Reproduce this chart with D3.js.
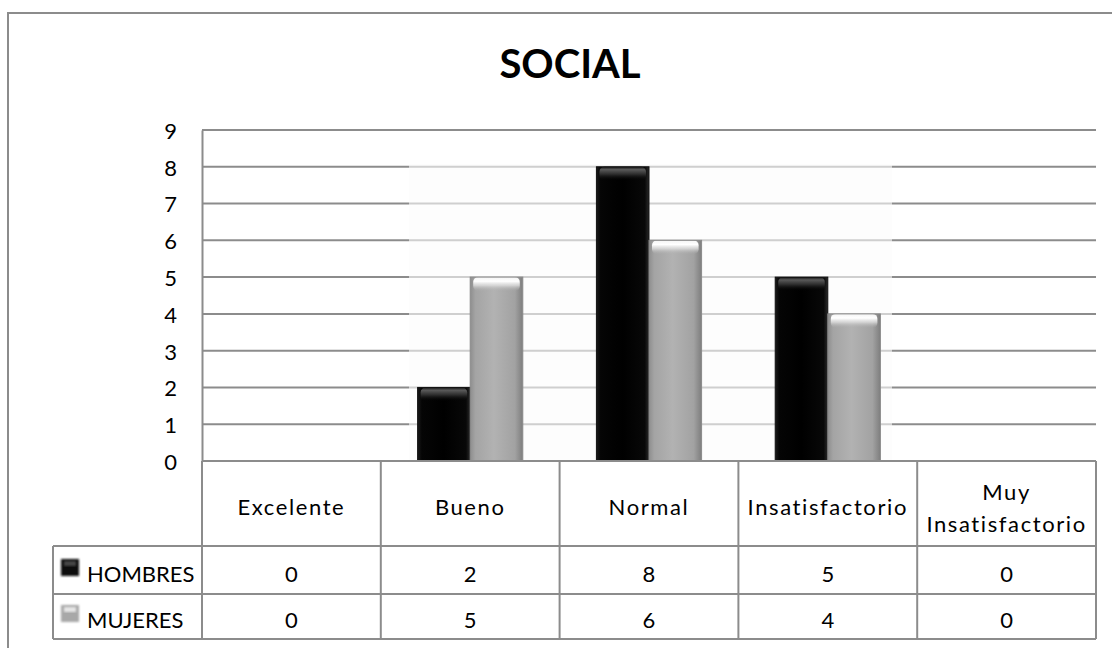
<!DOCTYPE html>
<html>
<head>
<meta charset="utf-8">
<script src="https://cdn.jsdelivr.net/npm/d3@7"></script>
<style>
  html, body { margin: 0; padding: 0; background: #fff; }
  svg { display: block; }
  text { font-family: Lato, "Open Sans", sans-serif; fill: #000; }
</style>
</head>
<body>
<svg id="chart" width="1112" height="648"></svg>
<script>
// Chart data
const title = "SOCIAL";
const categories = ["Excelente", "Bueno", "Normal", "Insatisfactorio", "Muy Insatisfactorio"];
const categoryLines = [["Excelente"], ["Bueno"], ["Normal"], ["Insatisfactorio"], ["Muy", "Insatisfactorio"]];
const seriesNames = ["HOMBRES", "MUJERES"];
const hombres = [0, 2, 8, 5, 0];
const mujeres = [0, 5, 6, 4, 0];
const yTicks = [0, 1, 2, 3, 4, 5, 6, 7, 8, 9];

const seriesValues = { HOMBRES: hombres, MUJERES: mujeres };

const svg = d3.select("#chart");
const line = "#8c8c8c";
const fontSize = 22;

// Plot geometry
const plot = { left: 202, right: 1096, top: 130, bottom: 461 };
const tableRows = { header: 546, row1: 594, row2: 639 };
const legendLeft = 53;

const y = d3.scaleLinear().domain([0, 9]).range([plot.bottom, plot.top]);
const x0 = d3.scaleBand().domain(categories).range([plot.left, plot.right]).padding(0);
const x1 = d3.scaleBand().domain(seriesNames).range([0, x0.bandwidth()])
  .paddingInner(0).paddingOuter(0.7);

// Gradients for the bevelled bars
const defs = svg.append("defs");
function linGrad(id, x2, y2, stops) {
  const g = defs.append("linearGradient").attr("id", id)
    .attr("x1", 0).attr("y1", 0).attr("x2", x2).attr("y2", y2);
  stops.forEach(s => g.append("stop").attr("offset", s[0]).attr("stop-color", s[1]).attr("stop-opacity", s[2] == null ? 1 : s[2]));
}
linGrad("hBody", 1, 0, [[0, "#1a1a1a"], [0.08, "#050505"], [0.5, "#000"], [0.92, "#080808"], [1, "#2a2a2a"]]);
linGrad("mBody", 1, 0, [[0, "#8e8e8e"], [0.1, "#a4a4a4"], [0.45, "#b2b2b2"], [0.85, "#a2a2a2"], [1, "#7e7e7e"]]);
linGrad("hCap", 0, 1, [[0, "#111"], [0.2, "#5a5a5a"], [0.55, "#2a2a2a"], [1, "#000", 0]]);
linGrad("mCap", 0, 1, [[0, "#f4f4f4"], [0.3, "#ffffff"], [0.6, "#dedede", 0.8], [1, "#b0b0b0", 0]]);
defs.append("filter").attr("id", "soft").append("feGaussianBlur").attr("stdDeviation", 0.9);

// Outer frame (left and top edges)
svg.append("path")
  .attr("d", "M8,648 V13 H1112")
  .attr("fill", "none").attr("stroke", line).attr("stroke-width", 2);

// Title
svg.append("text").attr("x", 570).attr("y", 78).attr("text-anchor", "middle")
  .attr("font-size", 40).attr("font-weight", 700).text(title);

// Gridlines
svg.append("g").selectAll("line").data(yTicks.filter(d => d > 0)).join("line")
  .attr("x1", plot.left).attr("x2", plot.right)
  .attr("y1", d => y(d)).attr("y2", d => y(d))
  .attr("stroke", line).attr("stroke-width", 2);

// Soft haze behind the bars
svg.append("rect")
  .attr("x", 409).attr("y", y(8) - 3).attr("width", 892 - 409).attr("height", plot.bottom - y(8) + 2)
  .attr("fill", "#fcfcfc").attr("opacity", 0.6);

// Y axis
const yAxis = d3.axisLeft(y).tickValues(yTicks).tickSize(0).tickPadding(25);
const ya = svg.append("g").attr("transform", `translate(${plot.left},0)`).call(yAxis);
ya.select(".domain").attr("stroke", line).attr("stroke-width", 2);
ya.selectAll("text").attr("font-size", fontSize).attr("font-family", "Lato, sans-serif")
  .attr("fill", "#000").attr("dy", "0.38em");

// Bars
const groups = svg.append("g").selectAll("g").data(categories).join("g")
  .attr("transform", d => `translate(${x0(d)},0)`);

const barData = (cat, i) => seriesNames.map(s => ({ s, v: seriesValues[s][i] }));

groups.each(function (cat, i) {
  const g = d3.select(this);
  barData(cat, i).filter(d => d.v > 0).forEach(d => {
    const bx = x1(d.s), bw = x1.bandwidth();
    const top = y(d.v), h = plot.bottom - top;
    const isH = d.s === "HOMBRES";
    g.append("rect").attr("x", bx).attr("y", top).attr("width", bw).attr("height", h)
      .attr("fill", isH ? "url(#hBody)" : "url(#mBody)");
    g.append("rect").attr("x", bx + 3).attr("y", top).attr("width", bw - 6).attr("height", Math.min(14, h))
      .attr("rx", 5).attr("fill", isH ? "url(#hCap)" : "url(#mCap)");
    g.append("rect").attr("x", bx).attr("y", top).attr("width", bw).attr("height", h)
      .attr("fill", "none").attr("stroke", isH ? "#111" : "#8a8a8a").attr("stroke-width", 1);
  });
});

// Data table
const tbl = svg.append("g").attr("stroke", line).attr("stroke-width", 2).attr("fill", "none");
// horizontal rules
tbl.append("line").attr("x1", plot.left).attr("x2", plot.right).attr("y1", plot.bottom).attr("y2", plot.bottom);
[tableRows.header, tableRows.row1, tableRows.row2].forEach(yy =>
  tbl.append("line").attr("x1", legendLeft).attr("x2", plot.right).attr("y1", yy).attr("y2", yy));
// vertical rules
const colEdges = categories.map(c => x0(c)).concat([plot.right]);
colEdges.forEach(xx =>
  tbl.append("line").attr("x1", xx).attr("x2", xx).attr("y1", plot.bottom).attr("y2", tableRows.row2));
tbl.append("line").attr("x1", legendLeft).attr("x2", legendLeft).attr("y1", tableRows.header).attr("y2", tableRows.row2);

// Category headers
categories.forEach((c, i) => {
  const cx = x0(c) + x0.bandwidth() / 2;
  const linesTxt = categoryLines[i];
  const base = linesTxt.length === 1 ? [515] : [500, 532];
  linesTxt.forEach((t, k) => {
    svg.append("text").attr("font-size", fontSize).attr("letter-spacing", "1.6px")
      .attr("text-anchor", "middle")
      .attr("x", cx).attr("y", base[k])
      .text(t);
  });
});

// Values rows with legend keys
const rowBase = [582, 628];
seriesNames.forEach((s, r) => {
  seriesValues[s].forEach((v, i) => {
    svg.append("text").attr("font-size", fontSize).attr("text-anchor", "middle")
      .attr("x", x0(categories[i]) + x0.bandwidth() / 2).attr("y", rowBase[r])
      .text(v);
  });
  const isH = s === "HOMBRES";
  svg.append("rect").attr("x", 61).attr("y", rowBase[r] - 23).attr("width", 18).attr("height", 17)
    .attr("fill", isH ? "#111" : "#a8a8a8").attr("filter", "url(#soft)");
  svg.append("rect").attr("x", 64).attr("y", rowBase[r] - 21).attr("width", 12).attr("height", 5)
    .attr("fill", isH ? "#444" : "#e6e6e6").attr("filter", "url(#soft)");
  svg.append("text").attr("x", 87).attr("y", rowBase[r]).attr("font-size", fontSize)
    .text(s);
});
</script>
</body>
</html>
